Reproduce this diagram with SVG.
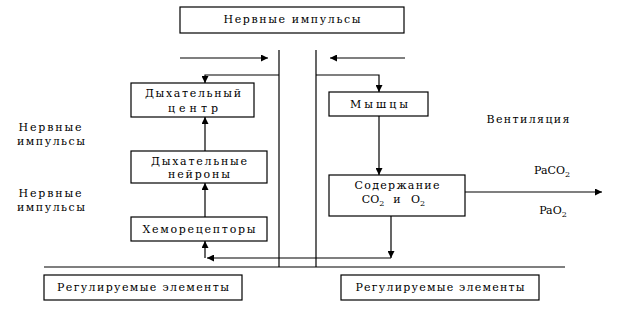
<svg xmlns="http://www.w3.org/2000/svg" width="624" height="312" viewBox="0 0 624 312">
<defs>
<marker id="ah" viewBox="0 0 10 10" refX="10" refY="5" markerWidth="7" markerHeight="7" markerUnits="userSpaceOnUse" orient="auto">
<path d="M0,0 L10,5 L0,10 z" fill="#000"/>
</marker>
<style>
.box{fill:#fff;stroke:#000;stroke-width:1.2}
.ln{fill:none;stroke:#000;stroke-width:1.2}
.ar{fill:none;stroke:#000;stroke-width:1.2;marker-end:url(#ah)}
text{font-family:"DejaVu Serif","Liberation Serif",serif;font-size:11px;fill:#000;text-anchor:middle}
.sub{font-size:8px}
</style>
</defs>
<rect width="624" height="312" fill="#fff"/>
<g id="connectors">
<line class="ln" x1="279" y1="50" x2="279" y2="267"/>
<line class="ln" x1="316" y1="50" x2="316" y2="267"/>
<line class="ln" x1="44" y1="267" x2="565" y2="267"/>
<line class="ar" x1="180" y1="58" x2="268" y2="58"/>
<line class="ar" x1="405" y1="58" x2="330" y2="58"/>
<polyline class="ar" points="279,75 205,75 205,83"/>
<polyline class="ar" points="316,75 379,75 379,92"/>
<line class="ar" x1="205" y1="151" x2="205" y2="117"/>
<line class="ar" x1="205" y1="217" x2="205" y2="183"/>
<line class="ar" x1="379" y1="116" x2="379" y2="175"/>
<line class="ar" x1="391" y1="216" x2="391" y2="258"/>
<line class="ar" x1="391" y1="258" x2="207" y2="258"/>
<line class="ar" x1="205" y1="258" x2="205" y2="241"/>
<line class="ar" x1="465" y1="192" x2="602" y2="192"/>
</g>
<g id="top">
<rect class="box" x="180" y="7" width="224" height="26"/>
<text x="292" y="23" textLength="137" lengthAdjust="spacing">Нервные импульсы</text>
</g>
<g id="center">
<rect class="box" x="131" y="83" width="123" height="34"/>
<text x="193" y="97" textLength="96" lengthAdjust="spacing">Дыхательный</text>
<text x="193" y="112" textLength="50" lengthAdjust="spacing">центр</text>
</g>
<g id="neurons">
<rect class="box" x="131" y="151" width="136" height="32"/>
<text x="199" y="165" textLength="96" lengthAdjust="spacing">Дыхательные</text>
<text x="199" y="178" textLength="62" lengthAdjust="spacing">нейроны</text>
</g>
<g id="chemo">
<rect class="box" x="131" y="217" width="136" height="24"/>
<text x="199" y="233" textLength="113" lengthAdjust="spacing">Хеморецепторы</text>
</g>
<g id="muscles">
<rect class="box" x="329" y="92" width="99" height="24"/>
<text x="379" y="108" textLength="58" lengthAdjust="spacing">Мышцы</text>
</g>
<g id="content">
<rect class="box" x="329" y="175" width="136" height="41"/>
<text x="397" y="189" textLength="85" lengthAdjust="spacing">Содержание</text>
<text x="373" y="203">CO<tspan class="sub" dy="3">2</tspan></text>
<text x="397" y="203">и</text>
<text x="418" y="203">O<tspan class="sub" dy="3">2</tspan></text>
</g>
<g id="labels">
<text x="528" y="123" textLength="83" lengthAdjust="spacing">Вентиляция</text>
<text x="552" y="174">PaCO<tspan class="sub" dy="3">2</tspan></text>
<text x="553" y="214">PaO<tspan class="sub" dy="3">2</tspan></text>
<text x="50" y="131" textLength="63" lengthAdjust="spacing">Нервные</text>
<text x="51" y="145" textLength="68" lengthAdjust="spacing">импульсы</text>
<text x="50" y="197" textLength="63" lengthAdjust="spacing">Нервные</text>
<text x="51" y="211" textLength="68" lengthAdjust="spacing">импульсы</text>
</g>
<g id="reg-left">
<rect class="box" x="44" y="275" width="198" height="25"/>
<text x="143" y="291" textLength="172" lengthAdjust="spacing">Регулируемые элементы</text>
</g>
<g id="reg-right">
<rect class="box" x="341" y="275" width="198" height="25"/>
<text x="440" y="291" textLength="169" lengthAdjust="spacing">Регулируемые элементы</text>
</g>
</svg>
